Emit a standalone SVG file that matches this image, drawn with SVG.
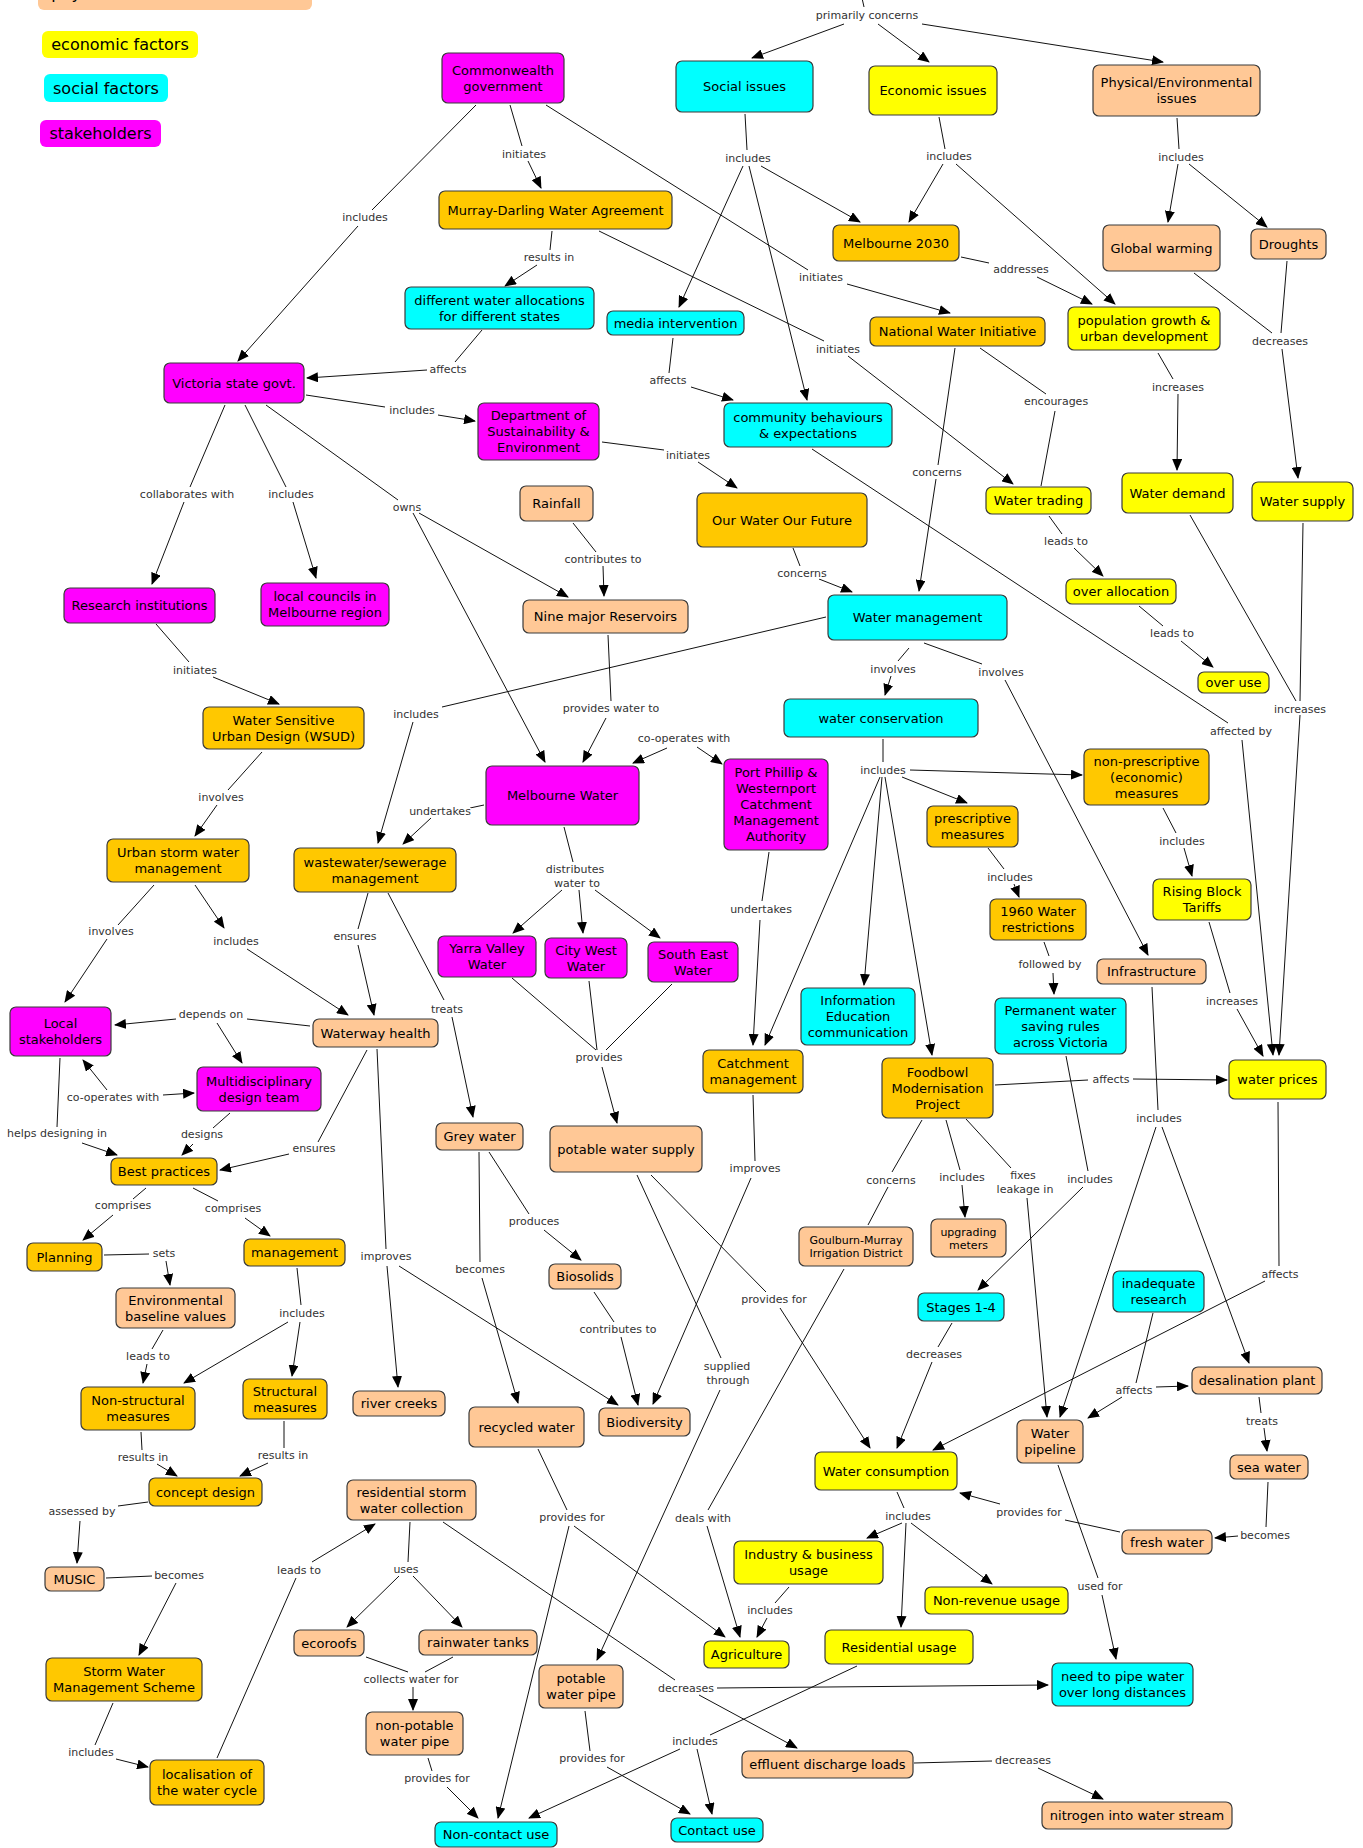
<svg xmlns="http://www.w3.org/2000/svg" width="1363" height="1848" viewBox="0 0 1363 1848">
<style>
.n rect{stroke:#3a3a3a;stroke-width:1.2}
.mg rect{fill:#FF00FF}.cy rect{fill:#00FFFF}.yl rect{fill:#FFFF00}.or rect{fill:#FFC800}.pe rect{fill:#FFC896}
text{font-family:"DejaVu Sans","Liberation Sans",sans-serif;fill:#000}
.n text{font-size:13px;text-anchor:middle}
.n text.s{font-size:11px}
.lg text{font-size:16px;text-anchor:middle}
.c path{fill:none;stroke:#111;stroke-width:1}
.c path.a{marker-end:url(#arr)}
.c text{font-size:11px;text-anchor:middle;fill:#333;stroke:#fff;stroke-width:3;paint-order:stroke;stroke-linejoin:round}
</style>
<defs>
<marker id="arr" viewBox="0 0 12 10" refX="11" refY="5" markerWidth="12" markerHeight="10" markerUnits="userSpaceOnUse" orient="auto"><path d="M0,0 L12,5 L0,10 z" fill="#000"/></marker>
</defs>
<rect width="1363" height="1848" fill="#fff"/>
<g id="legend" class="lg">
<g id="legend-physical"><rect x="38" y="-22" width="274" height="32" rx="6" fill="#FFC896"/><text x="175" y="-1">physical/environmental factors</text></g>
<g id="legend-economic"><rect x="42" y="31" width="156" height="27" rx="6" fill="#FFFF00"/><text x="120" y="50">economic factors</text></g>
<g id="legend-social"><rect x="44" y="74" width="124" height="28" rx="6" fill="#00FFFF"/><text x="106" y="93.5">social factors</text></g>
<g id="legend-stakeholders"><rect x="40" y="120" width="121" height="27" rx="6" fill="#FF00FF"/><text x="100.5" y="139">stakeholders</text></g>
</g>
<g id="connectors" class="c">
<path d="M862,-2 L864,7"/>
<path class="a" d="M844,24 L752,58"/>
<path class="a" d="M878,24 L929,62"/>
<path class="a" d="M922,24 L1163,62"/>
<path d="M476,105 L372,210"/><path class="a" d="M358,226 L238,361"/>
<path d="M510,105 L522,146"/><path class="a" d="M528,161 L541,188"/>
<path d="M546,105 L808,270"/><path class="a" d="M847,284 L950,313"/>
<path d="M552,231 L550,250"/><path class="a" d="M537,265 L505,286"/>
<path d="M599,231 L824,341"/><path class="a" d="M848,356 L1013,484"/>
<path d="M482,330 L455,362"/><path class="a" d="M427,370 L307,378"/>
<path d="M306,395 L385,407"/><path class="a" d="M438,415 L475,421"/>
<path d="M225,405 L190,487"/><path class="a" d="M184,502 L152,584"/>
<path d="M245,405 L286,487"/><path class="a" d="M293,502 L316,578"/>
<path d="M266,405 L398,500"/><path class="a" d="M413,513 L545,762"/><path class="a" d="M419,513 L568,597"/>
<path d="M156,624 L189,662"/><path class="a" d="M213,677 L279,704"/>
<path d="M262,752 L228,790"/><path class="a" d="M217,805 L195,836"/>
<path d="M826,617 L442,707"/><path class="a" d="M413,722 L378,843"/>
<path d="M484,805 L470,808"/><path class="a" d="M431,818 L403,844"/>
<path d="M154,885 L118,925"/><path class="a" d="M107,939 L65,1002"/>
<path class="a" d="M195,885 L224,928"/><path class="a" d="M247,949 L348,1015"/>
<path d="M368,893 L358,929"/><path class="a" d="M358,945 L374,1015"/>
<path d="M388,893 L444,1000"/><path class="a" d="M452,1017 L473,1117"/>
<path d="M310,1026 L247,1019"/><path class="a" d="M176,1019 L115,1025"/><path class="a" d="M217,1023 L242,1063"/>
<path d="M367,1050 L318,1142"/><path class="a" d="M289,1154 L220,1170"/>
<path d="M377,1049 L386,1249"/><path class="a" d="M387,1266 L398,1387"/><path class="a" d="M399,1266 L618,1405"/>
<path class="a" d="M107,1090 L83,1060"/><path class="a" d="M163,1095 L194,1093"/>
<path d="M60,1058 L57,1127"/><path class="a" d="M82,1143 L117,1155"/>
<path d="M230,1113 L213,1128"/><path class="a" d="M193,1144 L182,1155"/>
<path d="M146,1188 L133,1199"/><path class="a" d="M113,1215 L83,1240"/>
<path d="M193,1188 L218,1201"/><path class="a" d="M245,1218 L270,1236"/>
<path d="M104,1255 L149,1254"/><path class="a" d="M166,1261 L170,1285"/>
<path d="M297,1268 L301,1305"/><path class="a" d="M300,1322 L292,1376"/><path class="a" d="M288,1322 L184,1383"/>
<path d="M163,1330 L152,1349"/><path class="a" d="M147,1364 L143,1383"/>
<path d="M141,1432 L142,1450"/><path class="a" d="M157,1464 L177,1476"/>
<path d="M284,1421 L284,1448"/><path class="a" d="M268,1463 L240,1476"/>
<path d="M148,1502 L118,1506"/><path class="a" d="M80,1521 L77,1563"/>
<path d="M106,1578 L152,1576"/><path class="a" d="M176,1583 L139,1655"/>
<path d="M113,1703 L95,1745"/><path class="a" d="M116,1759 L148,1767"/>
<path d="M217,1758 L296,1578"/><path class="a" d="M312,1562 L375,1524"/>
<path d="M410,1522 L408,1562"/><path class="a" d="M399,1576 L347,1627"/><path class="a" d="M413,1576 L462,1627"/>
<path d="M443,1522 L675,1680"/><path class="a" d="M717,1688 L1048,1685"/><path class="a" d="M699,1695 L797,1748"/>
<path d="M366,1657 L408,1672"/><path d="M453,1657 L425,1672"/><path class="a" d="M413,1687 L413,1710"/>
<path d="M428,1758 L432,1771"/><path class="a" d="M447,1787 L478,1818"/>
<path d="M538,1449 L567,1510"/><path class="a" d="M569,1526 L498,1818"/><path class="a" d="M574,1526 L725,1637"/>
<path d="M489,1152 L529,1214"/><path class="a" d="M544,1230 L581,1260"/>
<path d="M479,1152 L480,1262"/><path class="a" d="M482,1278 L518,1403"/>
<path d="M594,1292 L614,1322"/><path class="a" d="M621,1337 L638,1405"/>
<path d="M512,978 L596,1050"/><path d="M589,981 L597,1050"/><path d="M672,984 L606,1050"/><path class="a" d="M602,1067 L617,1123"/>
<path d="M564,827 L573,862"/><path class="a" d="M562,890 L513,933"/><path class="a" d="M579,890 L583,933"/><path class="a" d="M595,890 L660,938"/>
<path d="M608,635 L611,701"/><path class="a" d="M606,718 L583,762"/>
<path d="M573,523 L596,552"/><path class="a" d="M603,566 L604,596"/>
<path class="a" d="M667,748 L633,763"/><path class="a" d="M697,747 L722,764"/>
<path d="M769,852 L762,901"/><path class="a" d="M760,920 L753,1045"/>
<path d="M602,442 L664,450"/><path class="a" d="M698,462 L737,488"/>
<path d="M673,338 L669,373"/><path class="a" d="M691,387 L733,400"/>
<path d="M812,449 L1228,723"/><path class="a" d="M1242,740 L1273,1055"/>
<path d="M793,548 L800,566"/><path class="a" d="M819,579 L852,592"/>
<path d="M745,114 L747,150"/><path class="a" d="M743,166 L679,307"/><path class="a" d="M761,166 L860,222"/><path class="a" d="M749,166 L807,400"/>
<path d="M939,117 L945,149"/><path class="a" d="M943,164 L909,222"/><path class="a" d="M956,164 L1115,304"/>
<path d="M1177,118 L1179,149"/><path class="a" d="M1178,164 L1168,222"/><path class="a" d="M1189,164 L1267,227"/>
<path d="M961,257 L989,263"/><path class="a" d="M1037,277 L1092,304"/>
<path d="M1194,273 L1272,333"/><path d="M1287,261 L1281,333"/><path class="a" d="M1282,349 L1298,478"/>
<path d="M1158,353 L1173,379"/><path class="a" d="M1178,394 L1177,470"/>
<path d="M955,348 L938,465"/><path class="a" d="M936,479 L919,591"/>
<path d="M980,348 L1046,394"/><path d="M1055,411 L1041,486"/>
<path d="M1049,516 L1062,534"/><path class="a" d="M1074,548 L1103,576"/>
<path d="M1139,606 L1163,626"/><path class="a" d="M1181,641 L1213,667"/>
<path d="M1190,515 L1296,701"/><path d="M1303,523 L1300,701"/><path class="a" d="M1300,715 L1279,1055"/>
<path d="M909,648 L898,661"/><path class="a" d="M891,676 L885,695"/>
<path d="M924,643 L982,664"/><path class="a" d="M1005,680 L1148,955"/>
<path d="M883,739 L883,762"/><path class="a" d="M910,770 L1082,775"/><path class="a" d="M902,777 L967,803"/><path class="a" d="M880,777 L765,1045"/><path class="a" d="M882,777 L864,985"/><path class="a" d="M885,777 L932,1055"/>
<path d="M1163,808 L1176,833"/><path class="a" d="M1184,848 L1192,876"/>
<path d="M988,848 L1004,869"/><path class="a" d="M1014,884 L1019,897"/>
<path d="M1044,942 L1049,956"/><path class="a" d="M1053,973 L1054,994"/>
<path d="M1066,1056 L1088,1171"/><path class="a" d="M1083,1187 L978,1290"/>
<path d="M1209,922 L1230,993"/><path class="a" d="M1237,1009 L1263,1056"/>
<path d="M995,1085 L1088,1080"/><path class="a" d="M1133,1079 L1227,1080"/>
<path d="M922,1120 L892,1172"/><path d="M888,1187 L868,1225"/>
<path d="M946,1120 L960,1170"/><path class="a" d="M962,1185 L965,1217"/>
<path d="M966,1119 L1011,1168"/><path class="a" d="M1027,1198 L1047,1417"/>
<path d="M1152,987 L1158,1110"/><path class="a" d="M1156,1127 L1060,1417"/><path class="a" d="M1162,1127 L1249,1363"/>
<path d="M1278,1102 L1279,1266"/><path class="a" d="M1265,1281 L933,1450"/>
<path d="M1153,1313 L1136,1383"/><path class="a" d="M1122,1397 L1088,1418"/><path class="a" d="M1156,1387 L1188,1386"/>
<path d="M1259,1397 L1261,1413"/><path class="a" d="M1264,1428 L1267,1451"/>
<path d="M1268,1482 L1266,1527"/><path class="a" d="M1238,1536 L1215,1538"/>
<path d="M1120,1532 L1065,1520"/><path class="a" d="M1000,1504 L960,1493"/>
<path d="M1058,1465 L1098,1578"/><path class="a" d="M1102,1595 L1116,1659"/>
<path d="M952,1323 L938,1347"/><path class="a" d="M932,1362 L897,1448"/>
<path d="M651,1175 L766,1292"/><path class="a" d="M780,1308 L870,1448"/>
<path d="M637,1175 L721,1358"/><path class="a" d="M720,1390 L597,1660"/>
<path d="M753,1095 L755,1161"/><path class="a" d="M751,1178 L653,1404"/>
<path d="M844,1269 L708,1510"/><path class="a" d="M707,1526 L740,1637"/>
<path d="M897,1492 L904,1508"/><path class="a" d="M902,1523 L867,1538"/><path class="a" d="M906,1523 L901,1627"/><path class="a" d="M911,1523 L992,1584"/>
<path d="M789,1587 L775,1603"/><path class="a" d="M767,1618 L757,1637"/>
<path d="M857,1666 L710,1735"/><path class="a" d="M680,1749 L529,1818"/><path class="a" d="M697,1749 L712,1814"/>
<path d="M585,1711 L590,1751"/><path class="a" d="M607,1767 L690,1814"/>
<path d="M914,1763 L992,1761"/><path class="a" d="M1038,1768 L1103,1799"/>
<text x="867" y="19">primarily concerns</text>
<text x="365" y="221">includes</text>
<text x="524" y="158">initiates</text>
<text x="821" y="281">initiates</text>
<text x="549" y="261">results in</text>
<text x="838" y="353">initiates</text>
<text x="448" y="373">affects</text>
<text x="412" y="414">includes</text>
<text x="187" y="498">collaborates with</text>
<text x="291" y="498">includes</text>
<text x="407" y="511">owns</text>
<text x="195" y="674">initiates</text>
<text x="221" y="801">involves</text>
<text x="416" y="718">includes</text>
<text x="440" y="815">undertakes</text>
<text x="111" y="935">involves</text>
<text x="236" y="945">includes</text>
<text x="355" y="940">ensures</text>
<text x="447" y="1013">treats</text>
<text x="211" y="1018">depends on</text>
<text x="314" y="1152">ensures</text>
<text x="386" y="1260">improves</text>
<text x="113" y="1101">co-operates with</text>
<text x="57" y="1137">helps designing in</text>
<text x="202" y="1138">designs</text>
<text x="123" y="1209">comprises</text>
<text x="233" y="1212">comprises</text>
<text x="164" y="1257">sets</text>
<text x="302" y="1317">includes</text>
<text x="148" y="1360">leads to</text>
<text x="143" y="1461">results in</text>
<text x="283" y="1459">results in</text>
<text x="82" y="1515">assessed by</text>
<text x="179" y="1579">becomes</text>
<text x="91" y="1756">includes</text>
<text x="299" y="1574">leads to</text>
<text x="406" y="1573">uses</text>
<text x="686" y="1692">decreases</text>
<text x="411" y="1683">collects water for</text>
<text x="437" y="1782">provides for</text>
<text x="572" y="1521">provides for</text>
<text x="534" y="1225">produces</text>
<text x="480" y="1273">becomes</text>
<text x="618" y="1333">contributes to</text>
<text x="599" y="1061">provides</text>
<text x="575" y="873">distributes</text>
<text x="577" y="887">water to</text>
<text x="611" y="712">provides water to</text>
<text x="603" y="563">contributes to</text>
<text x="684" y="742">co-operates with</text>
<text x="761" y="913">undertakes</text>
<text x="688" y="459">initiates</text>
<text x="668" y="384">affects</text>
<text x="1241" y="735">affected by</text>
<text x="802" y="577">concerns</text>
<text x="748" y="162">includes</text>
<text x="949" y="160">includes</text>
<text x="1181" y="161">includes</text>
<text x="1021" y="273">addresses</text>
<text x="1280" y="345">decreases</text>
<text x="1178" y="391">increases</text>
<text x="937" y="476">concerns</text>
<text x="1056" y="405">encourages</text>
<text x="1066" y="545">leads to</text>
<text x="1172" y="637">leads to</text>
<text x="1300" y="713">increases</text>
<text x="893" y="673">involves</text>
<text x="1001" y="676">involves</text>
<text x="883" y="774">includes</text>
<text x="1182" y="845">includes</text>
<text x="1010" y="881">includes</text>
<text x="1050" y="968">followed by</text>
<text x="1090" y="1183">includes</text>
<text x="1232" y="1005">increases</text>
<text x="1111" y="1083">affects</text>
<text x="891" y="1184">concerns</text>
<text x="962" y="1181">includes</text>
<text x="1023" y="1179">fixes</text>
<text x="1025" y="1193">leakage in</text>
<text x="1159" y="1122">includes</text>
<text x="1280" y="1278">affects</text>
<text x="1134" y="1394">affects</text>
<text x="1262" y="1425">treats</text>
<text x="1265" y="1539">becomes</text>
<text x="1029" y="1516">provides for</text>
<text x="1100" y="1590">used for</text>
<text x="934" y="1358">decreases</text>
<text x="774" y="1303">provides for</text>
<text x="727" y="1370">supplied</text>
<text x="728" y="1384">through</text>
<text x="755" y="1172">improves</text>
<text x="703" y="1522">deals with</text>
<text x="908" y="1520">includes</text>
<text x="770" y="1614">includes</text>
<text x="695" y="1745">includes</text>
<text x="592" y="1762">provides for</text>
<text x="1023" y="1764">decreases</text>
</g>
<g id="nodes">
<g id="n-commonwealth" class="n mg"><rect x="442" y="53" width="122" height="50" rx="6"/><text x="503" y="74.5">Commonwealth</text><text x="503" y="90.5">government</text></g>
<g id="n-social-issues" class="n cy"><rect x="676" y="61" width="137" height="51" rx="6"/><text x="744.5" y="91">Social issues</text></g>
<g id="n-economic-issues" class="n yl"><rect x="869" y="66" width="128" height="49" rx="6"/><text x="933" y="95">Economic issues</text></g>
<g id="n-physical-issues" class="n pe"><rect x="1093" y="65" width="167" height="51" rx="6"/><text x="1176.5" y="87">Physical/Environmental</text><text x="1176.5" y="103">issues</text></g>
<g id="n-murray-darling" class="n or"><rect x="439" y="191" width="233" height="38" rx="6"/><text x="555.5" y="214.5">Murray-Darling Water Agreement</text></g>
<g id="n-melbourne-2030" class="n or"><rect x="833" y="225" width="126" height="36" rx="6"/><text x="896" y="247.5">Melbourne 2030</text></g>
<g id="n-global-warming" class="n pe"><rect x="1103" y="225" width="117" height="46" rx="6"/><text x="1161.5" y="252.5">Global warming</text></g>
<g id="n-droughts" class="n pe"><rect x="1251" y="229" width="75" height="30" rx="6"/><text x="1288.5" y="248.5">Droughts</text></g>
<g id="n-water-allocations" class="n cy"><rect x="405" y="287" width="189" height="42" rx="6"/><text x="499.5" y="304.5">different water allocations</text><text x="499.5" y="320.5">for different states</text></g>
<g id="n-media" class="n cy"><rect x="607" y="311" width="137" height="24" rx="6"/><text x="675.5" y="327.5">media intervention</text></g>
<g id="n-population" class="n yl"><rect x="1068" y="307" width="152" height="43" rx="6"/><text x="1144" y="325">population growth &amp;</text><text x="1144" y="341">urban development</text></g>
<g id="n-nwi" class="n or"><rect x="870" y="317" width="175" height="29" rx="6"/><text x="957.5" y="336">National Water Initiative</text></g>
<g id="n-victoria" class="n mg"><rect x="164" y="363" width="140" height="40" rx="6"/><text x="234" y="387.5">Victoria state govt.</text></g>
<g id="n-dse" class="n mg"><rect x="478" y="403" width="121" height="57" rx="6"/><text x="538.5" y="420">Department of</text><text x="538.5" y="436">Sustainability &amp;</text><text x="538.5" y="452">Environment</text></g>
<g id="n-community" class="n cy"><rect x="724" y="403" width="168" height="44" rx="6"/><text x="808" y="421.5">community behaviours</text><text x="808" y="437.5">&amp; expectations</text></g>
<g id="n-rainfall" class="n pe"><rect x="520" y="486" width="73" height="35" rx="6"/><text x="556.5" y="508">Rainfall</text></g>
<g id="n-owof" class="n or"><rect x="697" y="493" width="170" height="54" rx="6"/><text x="782" y="524.5">Our Water Our Future</text></g>
<g id="n-water-trading" class="n yl"><rect x="986" y="487" width="105" height="27" rx="6"/><text x="1038.5" y="505">Water trading</text></g>
<g id="n-water-demand" class="n yl"><rect x="1122" y="473" width="111" height="40" rx="6"/><text x="1177.5" y="497.5">Water demand</text></g>
<g id="n-water-supply" class="n yl"><rect x="1252" y="482" width="101" height="39" rx="6"/><text x="1302.5" y="506">Water supply</text></g>
<g id="n-research" class="n mg"><rect x="64" y="588" width="151" height="35" rx="6"/><text x="139.5" y="610">Research institutions</text></g>
<g id="n-councils" class="n mg"><rect x="261" y="583" width="128" height="43" rx="6"/><text x="325" y="601">local councils in</text><text x="325" y="617">Melbourne region</text></g>
<g id="n-reservoirs" class="n pe"><rect x="523" y="600" width="165" height="33" rx="6"/><text x="605.5" y="621">Nine major Reservoirs</text></g>
<g id="n-water-management" class="n cy"><rect x="828" y="595" width="179" height="45" rx="6"/><text x="917.5" y="622">Water management</text></g>
<g id="n-over-allocation" class="n yl"><rect x="1066" y="579" width="110" height="25" rx="6"/><text x="1121" y="596">over allocation</text></g>
<g id="n-over-use" class="n yl"><rect x="1198" y="672" width="71" height="21" rx="6"/><text x="1233.5" y="687">over use</text></g>
<g id="n-water-conservation" class="n cy"><rect x="784" y="699" width="194" height="38" rx="6"/><text x="881" y="722.5">water conservation</text></g>
<g id="n-wsud" class="n or"><rect x="203" y="707" width="161" height="42" rx="6"/><text x="283.5" y="724.5">Water Sensitive</text><text x="283.5" y="740.5">Urban Design (WSUD)</text></g>
<g id="n-non-prescriptive" class="n or"><rect x="1084" y="749" width="125" height="56" rx="6"/><text x="1146.5" y="765.5">non-prescriptive</text><text x="1146.5" y="781.5">(economic)</text><text x="1146.5" y="797.5">measures</text></g>
<g id="n-melbourne-water" class="n mg"><rect x="486" y="766" width="153" height="59" rx="6"/><text x="562.5" y="800">Melbourne Water</text></g>
<g id="n-port-phillip" class="n mg"><rect x="724" y="759" width="104" height="91" rx="6"/><text x="776" y="777">Port Phillip &amp;</text><text x="776" y="793">Westernport</text><text x="776" y="809">Catchment</text><text x="776" y="825">Management</text><text x="776" y="841">Authority</text></g>
<g id="n-prescriptive" class="n or"><rect x="927" y="806" width="91" height="41" rx="6"/><text x="972.5" y="823">prescriptive</text><text x="972.5" y="839">measures</text></g>
<g id="n-urban-storm" class="n or"><rect x="107" y="839" width="142" height="43" rx="6"/><text x="178" y="857">Urban storm water</text><text x="178" y="873">management</text></g>
<g id="n-wastewater" class="n or"><rect x="294" y="848" width="162" height="44" rx="6"/><text x="375" y="866.5">wastewater/sewerage</text><text x="375" y="882.5">management</text></g>
<g id="n-rising-block" class="n yl"><rect x="1153" y="879" width="98" height="41" rx="6"/><text x="1202" y="896">Rising Block</text><text x="1202" y="912">Tariffs</text></g>
<g id="n-restrictions-1960" class="n or"><rect x="990" y="899" width="96" height="41" rx="6"/><text x="1038" y="916">1960 Water</text><text x="1038" y="932">restrictions</text></g>
<g id="n-yarra" class="n mg"><rect x="438" y="936" width="98" height="41" rx="6"/><text x="487" y="953">Yarra Valley</text><text x="487" y="969">Water</text></g>
<g id="n-city-west" class="n mg"><rect x="545" y="938" width="82" height="40" rx="6"/><text x="586" y="954.5">City West</text><text x="586" y="970.5">Water</text></g>
<g id="n-south-east" class="n mg"><rect x="648" y="942" width="90" height="40" rx="6"/><text x="693" y="958.5">South East</text><text x="693" y="974.5">Water</text></g>
<g id="n-infrastructure" class="n pe"><rect x="1097" y="959" width="109" height="25" rx="6"/><text x="1151.5" y="976">Infrastructure</text></g>
<g id="n-info-edu" class="n cy"><rect x="801" y="988" width="114" height="57" rx="6"/><text x="858" y="1005">Information</text><text x="858" y="1021">Education</text><text x="858" y="1037">communication</text></g>
<g id="n-permanent" class="n cy"><rect x="995" y="998" width="131" height="56" rx="6"/><text x="1060.5" y="1014.5">Permanent water</text><text x="1060.5" y="1030.5">saving rules</text><text x="1060.5" y="1046.5">across Victoria</text></g>
<g id="n-local-stakeholders" class="n mg"><rect x="10" y="1007" width="101" height="49" rx="6"/><text x="60.5" y="1028">Local</text><text x="60.5" y="1044">stakeholders</text></g>
<g id="n-waterway" class="n pe"><rect x="313" y="1019" width="125" height="28" rx="6"/><text x="375.5" y="1037.5">Waterway health</text></g>
<g id="n-catchment" class="n or"><rect x="703" y="1050" width="100" height="43" rx="6"/><text x="753" y="1068">Catchment</text><text x="753" y="1084">management</text></g>
<g id="n-foodbowl" class="n or"><rect x="882" y="1058" width="111" height="60" rx="6"/><text x="937.5" y="1076.5">Foodbowl</text><text x="937.5" y="1092.5">Modernisation</text><text x="937.5" y="1108.5">Project</text></g>
<g id="n-water-prices" class="n yl"><rect x="1229" y="1060" width="97" height="39" rx="6"/><text x="1277.5" y="1084">water prices</text></g>
<g id="n-multidisciplinary" class="n mg"><rect x="197" y="1067" width="124" height="44" rx="6"/><text x="259" y="1085.5">Multidisciplinary</text><text x="259" y="1101.5">design team</text></g>
<g id="n-grey-water" class="n pe"><rect x="436" y="1123" width="87" height="27" rx="6"/><text x="479.5" y="1141">Grey water</text></g>
<g id="n-potable-supply" class="n pe"><rect x="550" y="1126" width="152" height="46" rx="6"/><text x="626" y="1153.5">potable water supply</text></g>
<g id="n-best-practices" class="n or"><rect x="111" y="1158" width="106" height="27" rx="6"/><text x="164" y="1176">Best practices</text></g>
<g id="n-upgrading" class="n pe"><rect x="931" y="1219" width="75" height="38" rx="6"/><text class="s" x="968.5" y="1235.5">upgrading</text><text class="s" x="968.5" y="1248.5">meters</text></g>
<g id="n-goulburn" class="n pe"><rect x="799" y="1227" width="114" height="39" rx="6"/><text class="s" x="856" y="1244">Goulburn-Murray</text><text class="s" x="856" y="1257">Irrigation District</text></g>
<g id="n-planning" class="n or"><rect x="27" y="1243" width="75" height="28" rx="6"/><text x="64.5" y="1261.5">Planning</text></g>
<g id="n-management" class="n or"><rect x="244" y="1239" width="101" height="27" rx="6"/><text x="294.5" y="1257">management</text></g>
<g id="n-biosolids" class="n pe"><rect x="549" y="1264" width="72" height="25" rx="6"/><text x="585" y="1281">Biosolids</text></g>
<g id="n-inadequate" class="n cy"><rect x="1113" y="1271" width="91" height="41" rx="6"/><text x="1158.5" y="1288">inadequate</text><text x="1158.5" y="1304">research</text></g>
<g id="n-env-baseline" class="n pe"><rect x="116" y="1288" width="119" height="40" rx="6"/><text x="175.5" y="1304.5">Environmental</text><text x="175.5" y="1320.5">baseline values</text></g>
<g id="n-stages" class="n cy"><rect x="918" y="1293" width="86" height="28" rx="6"/><text x="961" y="1311.5">Stages 1-4</text></g>
<g id="n-desalination" class="n pe"><rect x="1192" y="1367" width="130" height="27" rx="6"/><text x="1257" y="1385">desalination plant</text></g>
<g id="n-non-structural" class="n or"><rect x="81" y="1387" width="114" height="43" rx="6"/><text x="138" y="1405">Non-structural</text><text x="138" y="1421">measures</text></g>
<g id="n-structural" class="n or"><rect x="243" y="1379" width="84" height="40" rx="6"/><text x="285" y="1395.5">Structural</text><text x="285" y="1411.5">measures</text></g>
<g id="n-river-creeks" class="n pe"><rect x="353" y="1391" width="92" height="25" rx="6"/><text x="399" y="1408">river creeks</text></g>
<g id="n-recycled" class="n pe"><rect x="469" y="1407" width="115" height="40" rx="6"/><text x="526.5" y="1431.5">recycled water</text></g>
<g id="n-biodiversity" class="n pe"><rect x="599" y="1408" width="91" height="28" rx="6"/><text x="644.5" y="1426.5">Biodiversity</text></g>
<g id="n-water-pipeline" class="n pe"><rect x="1017" y="1420" width="66" height="43" rx="6"/><text x="1050" y="1438">Water</text><text x="1050" y="1454">pipeline</text></g>
<g id="n-water-consumption" class="n yl"><rect x="815" y="1452" width="142" height="38" rx="6"/><text x="886" y="1475.5">Water consumption</text></g>
<g id="n-sea-water" class="n pe"><rect x="1230" y="1455" width="78" height="24" rx="6"/><text x="1269" y="1471.5">sea water</text></g>
<g id="n-concept" class="n or"><rect x="149" y="1478" width="113" height="28" rx="6"/><text x="205.5" y="1496.5">concept design</text></g>
<g id="n-residential-storm" class="n pe"><rect x="347" y="1480" width="129" height="40" rx="6"/><text x="411.5" y="1496.5">residential storm</text><text x="411.5" y="1512.5">water collection</text></g>
<g id="n-fresh-water" class="n pe"><rect x="1122" y="1530" width="90" height="24" rx="6"/><text x="1167" y="1546.5">fresh water</text></g>
<g id="n-industry" class="n yl"><rect x="734" y="1541" width="149" height="43" rx="6"/><text x="808.5" y="1559">Industry &amp; business</text><text x="808.5" y="1575">usage</text></g>
<g id="n-music" class="n pe"><rect x="45" y="1567" width="59" height="24" rx="6"/><text x="74.5" y="1583.5">MUSIC</text></g>
<g id="n-non-revenue" class="n yl"><rect x="925" y="1587" width="143" height="27" rx="6"/><text x="996.5" y="1605">Non-revenue usage</text></g>
<g id="n-ecoroofs" class="n pe"><rect x="294" y="1630" width="70" height="26" rx="6"/><text x="329" y="1647.5">ecoroofs</text></g>
<g id="n-rainwater" class="n pe"><rect x="419" y="1630" width="118" height="25" rx="6"/><text x="478" y="1647">rainwater tanks</text></g>
<g id="n-residential-usage" class="n yl"><rect x="825" y="1630" width="148" height="34" rx="6"/><text x="899" y="1651.5">Residential usage</text></g>
<g id="n-agriculture" class="n yl"><rect x="704" y="1641" width="85" height="27" rx="6"/><text x="746.5" y="1659">Agriculture</text></g>
<g id="n-swms" class="n or"><rect x="46" y="1658" width="156" height="43" rx="6"/><text x="124" y="1676">Storm Water</text><text x="124" y="1692">Management Scheme</text></g>
<g id="n-need-pipe" class="n cy"><rect x="1052" y="1663" width="141" height="43" rx="6"/><text x="1122.5" y="1681">need to pipe water</text><text x="1122.5" y="1697">over long distances</text></g>
<g id="n-potable-pipe" class="n pe"><rect x="539" y="1665" width="84" height="43" rx="6"/><text x="581" y="1683">potable</text><text x="581" y="1699">water pipe</text></g>
<g id="n-non-potable" class="n pe"><rect x="366" y="1712" width="97" height="43" rx="6"/><text x="414.5" y="1730">non-potable</text><text x="414.5" y="1746">water pipe</text></g>
<g id="n-effluent" class="n pe"><rect x="742" y="1751" width="171" height="27" rx="6"/><text x="827.5" y="1769">effluent discharge loads</text></g>
<g id="n-localisation" class="n or"><rect x="150" y="1760" width="114" height="45" rx="6"/><text x="207" y="1779">localisation of</text><text x="207" y="1795">the water cycle</text></g>
<g id="n-nitrogen" class="n pe"><rect x="1042" y="1802" width="190" height="27" rx="6"/><text x="1137" y="1820">nitrogen into water stream</text></g>
<g id="n-contact" class="n cy"><rect x="671" y="1818" width="92" height="24" rx="6"/><text x="717" y="1834.5">Contact use</text></g>
<g id="n-non-contact" class="n cy"><rect x="435" y="1822" width="122" height="25" rx="6"/><text x="496" y="1839">Non-contact use</text></g>
</g>
</svg>
